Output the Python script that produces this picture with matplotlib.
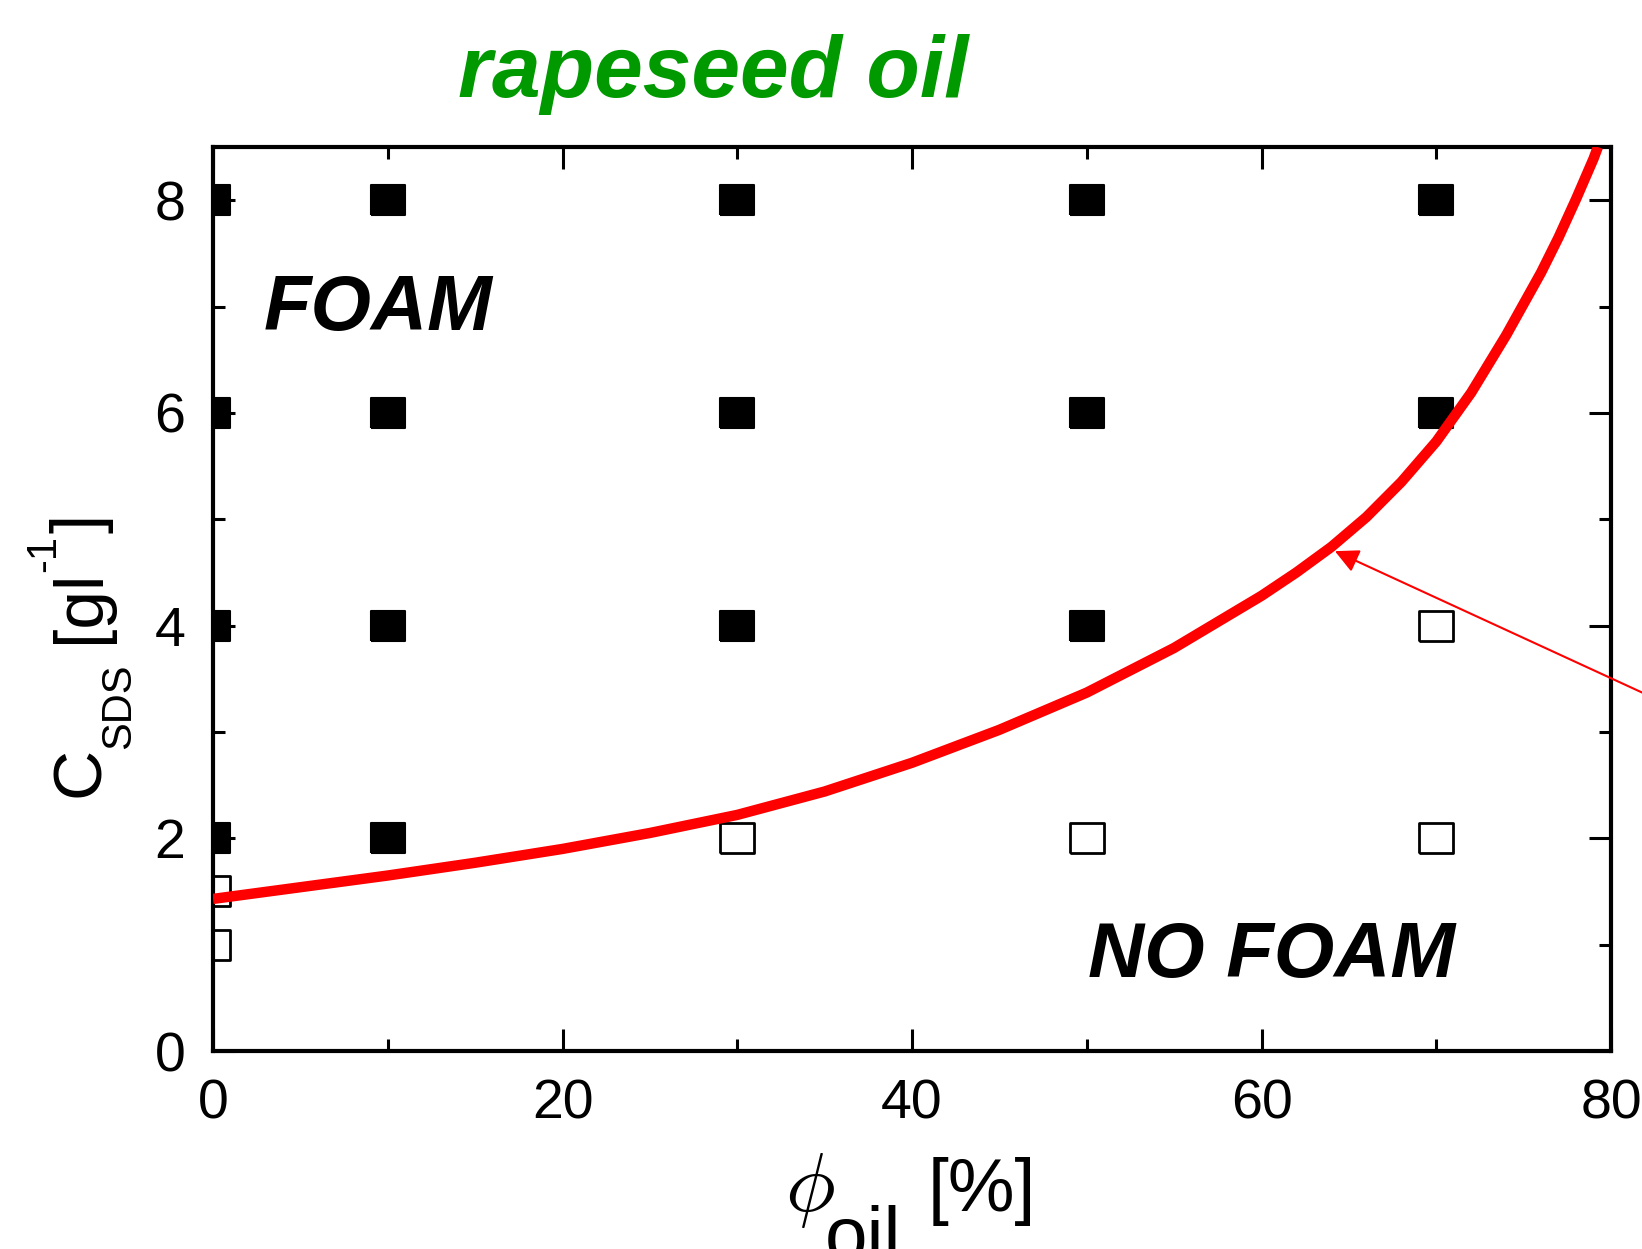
import matplotlib
matplotlib.use("Agg")
import matplotlib.pyplot as plt
from matplotlib.ticker import MultipleLocator

plt.rcParams['font.family'] = 'Liberation Sans'

# samples that foamed (filled) / did not foam (open)
foam_x = [0, 10, 30, 50, 70, 0, 10, 30, 50, 70, 0, 10, 30, 50, 0, 10]
foam_y = [8, 8, 8, 8, 8, 6, 6, 6, 6, 6, 4, 4, 4, 4, 2, 2]
nofoam_x = [70, 30, 50, 70, 0, 0]
nofoam_y = [4, 2, 2, 2, 1.5, 1.0]

# boundary curve
curve_x = [0, 5, 10, 15, 20, 25, 30, 35, 40, 45, 50, 55, 60, 62, 64, 66, 68,
           70, 72, 74, 76, 77, 78, 79, 79.25]
curve_y = [1.43, 1.54, 1.65, 1.77, 1.90, 2.05, 2.22, 2.44, 2.71, 3.02, 3.37,
           3.79, 4.28, 4.50, 4.74, 5.02, 5.35, 5.73, 6.19, 6.73, 7.32, 7.65,
           8.01, 8.39, 8.5]

W, H = 1642, 1249
fig = plt.figure(figsize=(W / 100, H / 100), dpi=100)
ax = fig.add_axes([213 / W, 1 - 1051 / H, (1611 - 213) / W, (1051 - 147) / H])

sq = [(-1, -0.89), (1, -0.89), (1, 0.89), (-1, 0.89), (-1, -0.89)]
ax.plot(foam_x, foam_y, ls='none', marker=sq, ms=25, mfc='black', mec='black', mew=1.5)
ax.plot(nofoam_x, nofoam_y, ls='none', marker=sq, ms=25, mfc='white', mec='black', mew=2)
ax.plot(curve_x, curve_y, color='red', lw=7.5, solid_capstyle='butt',
        solid_joinstyle='round', zorder=3)

ax.annotate('', xy=(64.2, 4.70), xytext=(88, 2.9), annotation_clip=False,
            arrowprops=dict(arrowstyle='-|>,head_length=0.4,head_width=0.2',
                            color='red', lw=1.5, mutation_scale=36,
                            shrinkA=0, shrinkB=0))

ax.set_xlim(0, 80)
ax.set_ylim(0, 8.5)
ax.xaxis.set_major_locator(MultipleLocator(20))
ax.xaxis.set_minor_locator(MultipleLocator(10))
ax.yaxis.set_major_locator(MultipleLocator(2))
ax.yaxis.set_minor_locator(MultipleLocator(1))
ax.tick_params(which='both', direction='in', top=True, right=True, width=2.2)
ax.tick_params(which='major', length=16, labelsize=40, pad=20)
ax.tick_params(which='minor', length=8.5)
for s in ax.spines.values():
    s.set_linewidth(3)

ax.text(2.9, 6.78, 'FOAM', fontsize=56, fontweight='bold', fontstyle='italic')
ax.text(50.1, 0.70, 'NO FOAM', fontsize=56, fontweight='bold', fontstyle='italic')

fig.text(713 / W, 1 - 97 / H, 'rapeseed oil', color='#009900', fontsize=63,
         fontweight='bold', fontstyle='italic', ha='center', va='baseline')

# x label pieces
fig.text(785 / W, 1 - 1211 / H, r'$\phi$', fontsize=60, math_fontfamily='cm', va='baseline')
fig.text(825 / W, 1 - 1260 / H, 'oil', fontsize=55, va='baseline')
fig.text(928 / W, 1 - 1211 / H, '[%]', fontsize=54, va='baseline')

# y label pieces
rot = dict(rotation=90, rotation_mode='anchor', ha='left', va='baseline')
fig.text(99 / W, 1 - 797 / H, 'C', fontsize=50, **rot)
fig.text(130 / W, 1 - 749 / H, 'SDS', fontsize=30, **rot)
fig.text(99 / W, 1 - 643 / H, '[gl', fontsize=50, **rot)
fig.text(55 / W, 1 - 572 / H, '-1', fontsize=30, **rot)
fig.text(99 / W, 1 - 533 / H, ']', fontsize=50, **rot)

fig.savefig('out.png', dpi=100)
